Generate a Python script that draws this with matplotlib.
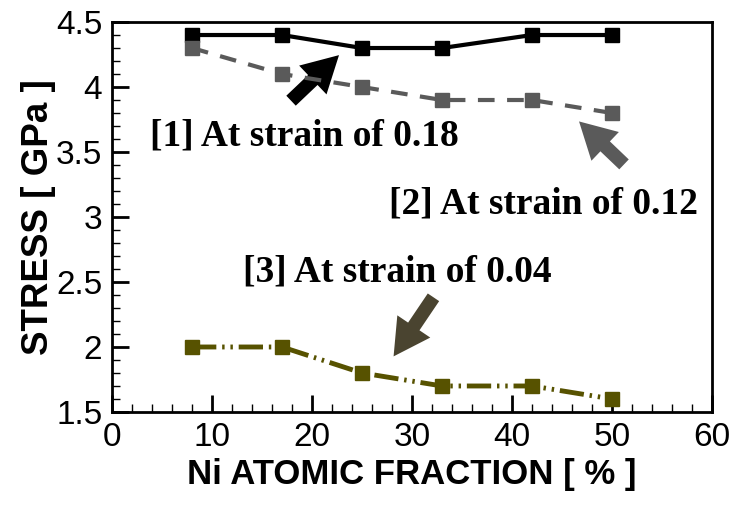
import matplotlib.pyplot as plt
from matplotlib.patches import FancyArrowPatch
from matplotlib.ticker import MultipleLocator

ni_frac = [8, 17, 25, 33, 42, 50]
stress_018 = [4.4, 4.4, 4.3, 4.3, 4.4, 4.4]
stress_012 = [4.3, 4.1, 4.0, 3.9, 3.9, 3.8]
stress_004 = [2.0, 2.0, 1.8, 1.7, 1.7, 1.6]

labels = ['[1] At strain of 0.18', '[2] At strain of 0.12', '[3] At strain of 0.04']

plt.rcParams['font.family'] = ['Liberation Sans', 'DejaVu Sans']

fig = plt.figure(figsize=(7.38, 5.05), dpi=100)
ax = fig.add_axes([0.1518, 0.1842, 0.813, 0.7722])

ax.plot(ni_frac, stress_018, color='black', lw=3, marker='s', ms=10.5)
ax.plot(ni_frac, stress_012, color='#5a5a5a', lw=3, marker='s', ms=10.5,
        dashes=(4, 3))
ax.plot(ni_frac, stress_004, color='#575200', lw=3.5, marker='s', ms=10.5,
        dashes=(5, 1.2, 0.5, 1.2, 0.5, 1.2))

ax.set_xlim(0, 60)
ax.set_ylim(1.5, 4.5)
ax.xaxis.set_major_locator(MultipleLocator(10))
ax.xaxis.set_minor_locator(MultipleLocator(2))
ax.yaxis.set_major_locator(MultipleLocator(0.5))
ax.yaxis.set_minor_locator(MultipleLocator(0.1))
ax.yaxis.set_major_formatter(plt.FuncFormatter(lambda v, p: f'{v:g}'))

ax.tick_params(which='both', direction='in', top=False, right=False)
ax.tick_params(which='major', length=12, width=2, labelsize=24, pad=7)
ax.tick_params(which='minor', length=6, width=1)
for s in ax.spines.values():
    s.set_linewidth(2)

ax.set_xlabel('Ni ATOMIC FRACTION [ % ]', fontsize=25, fontweight='bold',
              labelpad=4)
ax.set_ylabel('STRESS [ GPa ]', fontsize=26.5, fontweight='bold', labelpad=0)

# strain labels and their arrows
txt = dict(family='Liberation Serif', fontweight='bold', fontsize=27, va='center')
ax.text(3.8, 3.62, labels[0], **txt)
ax.text(27.7, 3.10, labels[1], **txt)
ax.text(13.1, 2.58, labels[2], **txt)

arrows = [((17.7, 3.88), (22.9, 4.26), 'black'),
          ((51.4, 3.39), (46.5, 3.75), '#5a5a5a'),
          ((32.3, 2.40), (28.0, 1.91), '#4a4430')]
for tail, head, c in arrows:
    ax.add_patch(FancyArrowPatch(tail, head, color=c, lw=0,
                                 arrowstyle='simple,head_width=1.1,head_length=1.0,tail_width=0.38',
                                 mutation_scale=26))

fig.savefig('out.png', dpi=100)
